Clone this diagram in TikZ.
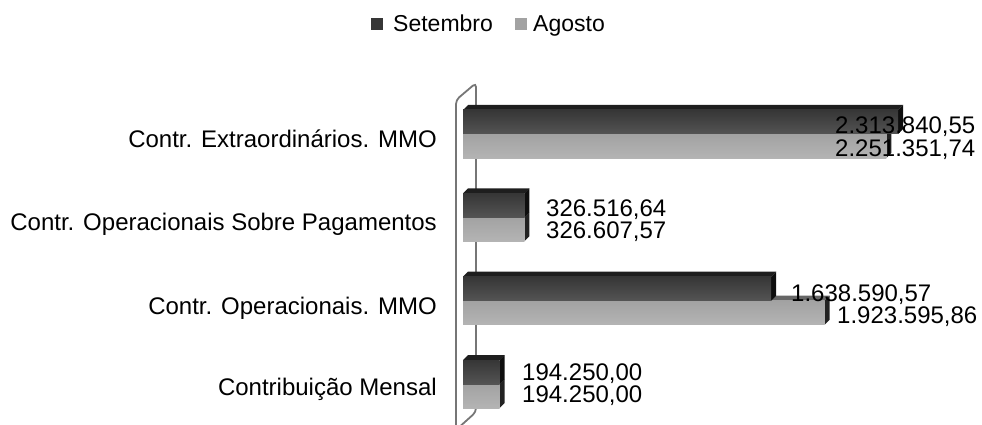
\documentclass[tikz,border=0pt]{standalone}
\usepackage{fontspec}
\setmainfont{Liberation Sans}
\definecolor{setfront}{HTML}{363636}
\definecolor{setfrontb}{HTML}{545454}
\definecolor{settop}{HTML}{1E1E1E}
\definecolor{setside}{HTML}{0E0E0E}
\definecolor{agofront}{HTML}{A2A2A2}
\definecolor{agofrontb}{HTML}{B4B4B4}
\definecolor{agotop}{HTML}{666666}
\definecolor{agoside}{HTML}{222222}
\definecolor{wallline}{HTML}{767676}
\newcommand{\drawbar}[6]{%
  \fill[#5] (463,#1) -- (468,#1-5) -- ({468+#2},#1-5) -- ({463+#2},#1) -- cycle;
  \fill[#6] ({463+#2},#1) -- ({468+#2},#1-5) -- ({468+#2},#1+19) -- ({463+#2},#1+24) -- cycle;
  \shade[top color=#3,bottom color=#4] (463,#1) rectangle ({463+#2},#1+24);
}
\tikzset{
  catlabel/.style={anchor=base east, inner sep=0pt, font=\fontsize{24}{24}\selectfont},
  vallabel/.style={anchor=base west, inner sep=0pt, font=\fontsize{24}{24}\selectfont},
  legtext/.style={anchor=base west, inner sep=0pt, font=\fontsize{23}{23}\selectfont},
  legbox/.style={inner sep=0pt, minimum size=12pt, draw=none},
}
\begin{document}
\begin{tikzpicture}[x=1pt,y=-1pt]
\useasboundingbox (0,0) rectangle (982,425);
% legend
\node[legbox, fill=setfront, anchor=north west] (lgs) at (371,18) {};
\node[legtext] (lgst) at (393,32) {Setembro};
\node[legbox, fill=agofront, anchor=north west] (lga) at (515,18) {};
\node[legtext] (lgat) at (533,32) {Agosto};
% wall
\begin{scope}
\clip (0,0) rectangle (982,425);
\draw[wallline, line width=1.8pt, rounded corners=4pt]
  (456,440) -- (456,100) -- (476,83) -- (476,412) -- (456,430);
\end{scope}
% bars: Agosto first, then Setembro
\drawbar{134}{423.25}{agofront}{agofrontb}{agotop}{agoside}
\drawbar{110}{435.0}{setfront}{setfrontb}{settop}{setside}
\drawbar{217.3}{61.40}{agofront}{agofrontb}{agotop}{agoside}
\drawbar{193.3}{61.38}{setfront}{setfrontb}{settop}{setside}
\drawbar{300.7}{361.63}{agofront}{agofrontb}{agotop}{agoside}
\drawbar{276.7}{308.05}{setfront}{setfrontb}{settop}{setside}
\drawbar{384}{36.52}{agofront}{agofrontb}{agotop}{agoside}
\drawbar{360}{36.52}{setfront}{setfrontb}{settop}{setside}
% category labels
\node[catlabel] (c1) at (437,147) {Contr. Extraordinários. MMO};
\node[catlabel] (c2) at (437,230) {Contr. Operacionais Sobre Pagamentos};
\node[catlabel] (c3) at (437,314) {Contr. Operacionais. MMO};
\node[catlabel] (c4) at (437,395) {Contribuição Mensal};
% value labels
\node[vallabel] (v1s) at (835,134) {2.313.840,55};
\node[vallabel] (v1a) at (835,156) {2.251.351,74};
\node[vallabel] (v2s) at (546,216) {326.516,64};
\node[vallabel] (v2a) at (546,238) {326.607,57};
\node[vallabel] (v3s) at (791,301) {1.638.590,57};
\node[vallabel] (v3a) at (837,323) {1.923.595,86};
\node[vallabel] (v4s) at (522,380) {194.250,00};
\node[vallabel] (v4a) at (522,402) {194.250,00};
\end{tikzpicture}
\end{document}
